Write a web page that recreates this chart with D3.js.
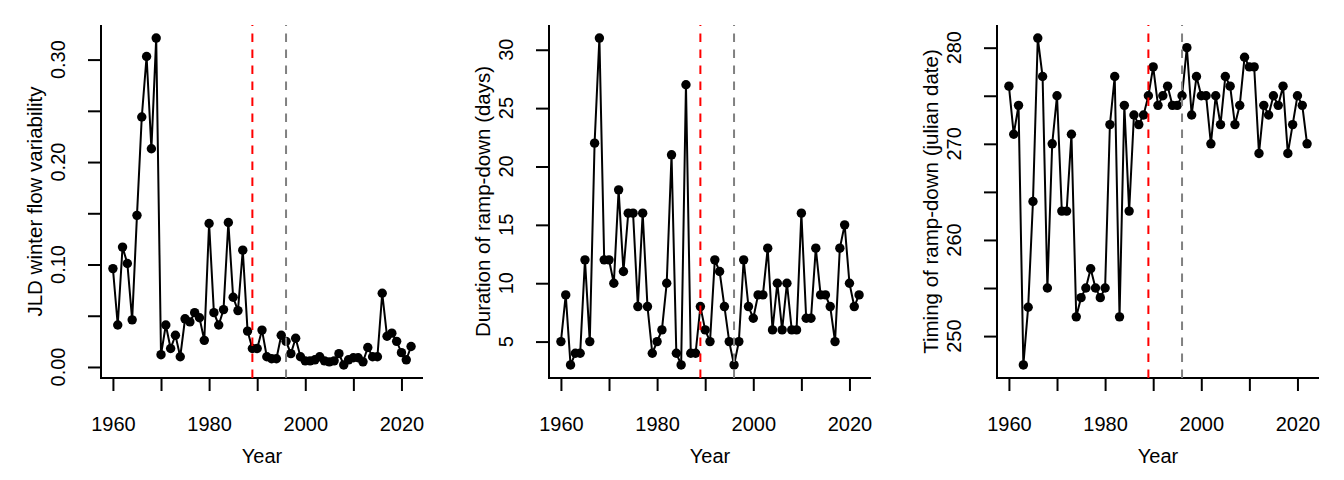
<!DOCTYPE html>
<html>
<head>
<meta charset="utf-8">
<script src="https://cdn.jsdelivr.net/npm/d3@7"></script>
<style>
  body { margin: 0; background: white; }
  text { font-family: "Liberation Sans", Arial, sans-serif; fill: black; }
</style>
</head>
<body>
<svg id="vis"></svg>
<script>
const WIDTH = 1344;
const HEIGHT = 480;

// años de la serie
const years = [
  1960, 1961, 1962, 1963, 1964, 1965, 1966, 1967, 1968, 1969,
  1970, 1971, 1972, 1973, 1974, 1975, 1976, 1977, 1978, 1979,
  1980, 1981, 1982, 1983, 1984, 1985, 1986, 1987, 1988, 1989,
  1990, 1991, 1992, 1993, 1994, 1995, 1996, 1997, 1998, 1999,
  2000, 2001, 2002, 2003, 2004, 2005, 2006, 2007, 2008, 2009,
  2010, 2011, 2012, 2013, 2014, 2015, 2016, 2017, 2018, 2019,
  2020, 2021, 2022,
];

const flowVariability = [
  0.096, 0.041, 0.117, 0.101, 0.046, 0.148, 0.244, 0.303, 0.213, 0.321,
  0.012, 0.041, 0.018, 0.031, 0.010, 0.047, 0.044, 0.053, 0.048, 0.026,
  0.140, 0.053, 0.041, 0.056, 0.141, 0.068, 0.055, 0.114, 0.035, 0.018,
  0.018, 0.036, 0.010, 0.008, 0.008, 0.031, 0.025, 0.013, 0.028, 0.010,
  0.006, 0.006, 0.007, 0.010, 0.006, 0.005, 0.006, 0.013, 0.002, 0.007,
  0.009, 0.009, 0.005, 0.019, 0.010, 0.010, 0.072, 0.030, 0.033, 0.025,
  0.014, 0.007, 0.020,
];

const rampDuration = [
  5, 9, 3, 4, 4, 12, 5, 22, 31, 12,
  12, 10, 18, 11, 16, 16, 8, 16, 8, 4,
  5, 6, 10, 21, 4, 3, 27, 4, 4, 8,
  6, 5, 12, 11, 8, 5, 3, 5, 12, 8,
  7, 9, 9, 13, 6, 10, 6, 10, 6, 6,
  16, 7, 7, 13, 9, 9, 8, 5, 13, 15,
  10, 8, 9,
];

const rampTiming = [
  276, 271, 274, 247, 253, 264, 281, 277, 255, 270,
  275, 263, 263, 271, 252, 254, 255, 257, 255, 254,
  255, 272, 277, 252, 274, 263, 273, 272, 273, 275,
  278, 274, 275, 276, 274, 274, 275, 280, 273, 277,
  275, 275, 270, 275, 272, 277, 276, 272, 274, 279,
  278, 278, 269, 274, 273, 275, 274, 276, 269, 272,
  275, 274, 270,
];

const yLabels = [
  "JLD winter flow variability",
  "Duration of ramp-down (days)",
  "Timing of ramp-down (julian date)",
];

// marcas de los ejes
const xTicks = [1960, 1970, 1980, 1990, 2000, 2010, 2020];
const xTickLabels = [1960, 1980, 2000, 2020];
const yTicks = [
  [0.0, 0.05, 0.1, 0.15, 0.2, 0.25, 0.3],
  [5, 10, 15, 20, 25, 30],
  [250, 255, 260, 265, 270, 275, 280],
];
const yTickLabels = [
  [0.0, 0.1, 0.2, 0.3],
  [5, 10, 15, 20, 25, 30],
  [250, 260, 270, 280],
];
const yFormats = [d3.format(".2f"), d3.format("d"), d3.format("d")];

// años de cambio de régimen
const breakYears = [1989, 1996];
const breakColors = ["#FF0000", "#808080"];

const series = [flowVariability, rampDuration, rampTiming];

const PANEL_W = 448;
const MARGIN = { top: 25, bottom: 102, left: 101, right: 25 };
const TICK = 13;

const svg = d3.select("#vis").attr("width", WIDTH).attr("height", HEIGHT);
svg.append("rect").attr("width", WIDTH).attr("height", HEIGHT).attr("fill", "white");

// extensión del 4% como en R
function padded(lo, hi) {
  const p = (hi - lo) * 0.04;
  return [lo - p, hi + p];
}

series.forEach((values, i) => {
  const x0 = i * PANEL_W + MARGIN.left;
  const x1 = (i + 1) * PANEL_W - MARGIN.right;
  const y0 = HEIGHT - MARGIN.bottom;
  const y1 = MARGIN.top;

  const escalaX = d3.scaleLinear().domain(padded(d3.min(years), d3.max(years))).range([x0, x1]);
  const escalaY = d3.scaleLinear().domain(padded(d3.min(values), d3.max(values))).range([y0, y1]);

  const g = svg.append("g");

  // eje X
  g.append("g")
    .attr("transform", `translate(0, ${y0})`)
    .call(d3.axisBottom(escalaX).tickValues(xTicks).tickSize(TICK).tickFormat((d) => (xTickLabels.includes(d) ? d : "")).tickPadding(26))
    .call((a) => a.select(".domain").remove())
    .call((a) => a.selectAll("line").attr("stroke", "black").attr("stroke-width", 2))
    .call((a) => a.selectAll("text").attr("font-size", "20px").attr("font-family", "Liberation Sans, Arial, sans-serif").attr("fill", "black"));

  // eje Y
  g.append("g")
    .attr("transform", `translate(${x0}, 0)`)
    .call(d3.axisLeft(escalaY).tickValues(yTicks[i]).tickSize(TICK).tickFormat(() => ""))
    .call((a) => a.select(".domain").remove())
    .call((a) => a.selectAll("line").attr("stroke", "black").attr("stroke-width", 2));

  g.selectAll(".ylab")
    .data(yTickLabels[i])
    .join("text")
    .attr("class", "ylab")
    .attr("transform", (d) => `translate(${x0 - 36}, ${escalaY(d)}) rotate(-90)`)
    .attr("text-anchor", "middle")
    .attr("font-size", "20px")
    .text((d) => yFormats[i](d));

  // caja en L
  g.append("path")
    .attr("d", `M${x0},${y1}V${y0}H${x1}`)
    .attr("fill", "none")
    .attr("stroke", "black")
    .attr("stroke-width", 2);

  // títulos de ejes
  g.append("text")
    .attr("x", (x0 + x1) / 2)
    .attr("y", 463)
    .attr("text-anchor", "middle")
    .attr("font-size", "20px")
    .text("Year");

  g.append("text")
    .attr("transform", `translate(${i * PANEL_W + 42}, ${(y0 + y1) / 2}) rotate(-90)`)
    .attr("text-anchor", "middle")
    .attr("font-size", "20.5px")
    .text(yLabels[i]);

  // serie
  const datos = years.map((yr, k) => ({ year: yr, value: values[k] }));
  const linea = d3.line().x((d) => escalaX(d.year)).y((d) => escalaY(d.value));

  g.append("path")
    .datum(datos)
    .attr("d", linea)
    .attr("fill", "none")
    .attr("stroke", "black")
    .attr("stroke-width", 2);

  g.selectAll("circle")
    .data(datos)
    .join("circle")
    .attr("cx", (d) => escalaX(d.year))
    .attr("cy", (d) => escalaY(d.value))
    .attr("r", 4.7)
    .attr("fill", "black");

  // líneas verticales discontinuas (de abajo hacia arriba, como abline)
  g.selectAll(".break")
    .data(breakYears)
    .join("line")
    .attr("class", "break")
    .attr("x1", (d) => escalaX(d))
    .attr("x2", (d) => escalaX(d))
    .attr("y1", y0)
    .attr("y2", y1)
    .attr("stroke", (_, k) => breakColors[k])
    .attr("stroke-width", 2)
    .attr("stroke-dasharray", "8.5 7.5");
});
</script>
</body>
</html>
